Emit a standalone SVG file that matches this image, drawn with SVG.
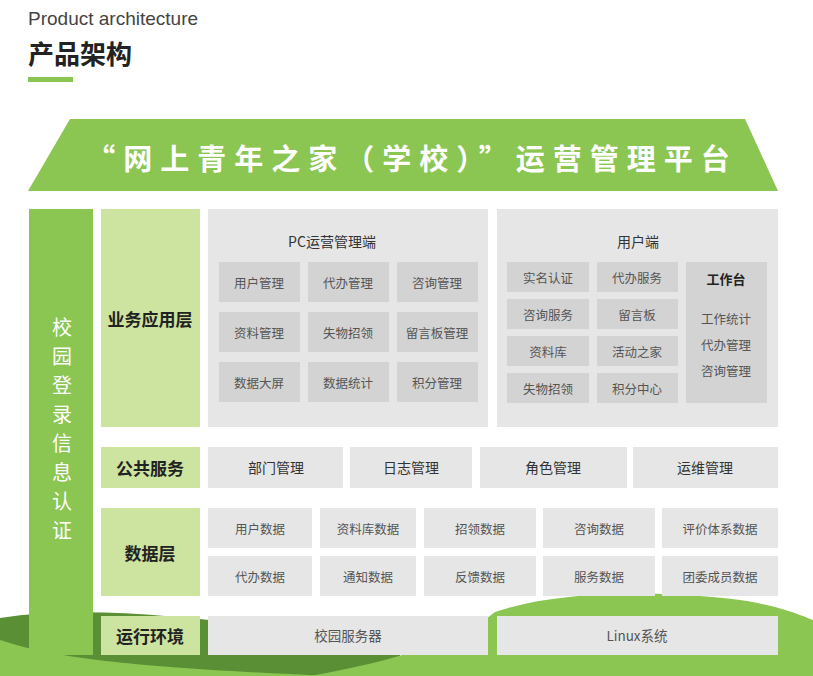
<svg xmlns="http://www.w3.org/2000/svg" width="813" height="676" viewBox="0 0 813 676">
<style>
text{font-family:"Noto Sans CJK SC","Noto Sans",sans-serif;text-anchor:middle;dominant-baseline:central}
.p{fill:#e6e6e6}.b{fill:#d3d3d3}.l{fill:#cde3a0}
.t{font-size:12.5px;fill:#555}.h{font-size:17px;font-weight:bold;fill:#222}
.s{font-size:14px;fill:#333}
</style>
<rect width="813" height="676" fill="#fff"/>
<g id="background">
<path d="M0 618 C120 600 260 630 400 640 L400 676 L0 676 Z" fill="#5a8f35"/>
<path d="M0 640 C60 660 150 668 330 676 L0 676 Z" fill="#8bc552"/>
<path d="M495 612 C560 590 660 590 740 600 C780 606 800 615 813 620 L813 676 L310 676 C400 660 460 640 495 612 Z" fill="#8bc552"/>
</g>
<g id="header">
<text x="28" y="18" style="font-family:'Liberation Sans',sans-serif;text-anchor:start;font-size:19px;fill:#444">Product architecture</text>
<text x="28" y="52" style="text-anchor:start;font-size:26px;font-weight:bold;fill:#222">产品架构</text>
<rect x="28" y="77" width="45" height="5" fill="#8bc552"/>
</g>
<g id="banner">
<path d="M70 119 L745 119 L778 191 L28 191 Z" fill="#8bc552"/>
<text x="412" y="157" style="font-size:29px;font-weight:bold;fill:#fff;letter-spacing:8px">“网上青年之家（学校）”运营管理平台</text>
</g>
<g id="auth">
<rect x="29" y="209" width="64" height="446" fill="#8bc552"/>
<text x="62" y="326" style="font-size:20px;fill:#fff"><tspan x="62" dy="0">校</tspan><tspan x="62" dy="29">园</tspan><tspan x="62" dy="29">登</tspan><tspan x="62" dy="29">录</tspan><tspan x="62" dy="29">信</tspan><tspan x="62" dy="29">息</tspan><tspan x="62" dy="29">认</tspan><tspan x="62" dy="29">证</tspan></text>
</g>
<g id="labels">
<rect class="l" x="101" y="209" width="99" height="218"/><text class="h" x="150" y="318">业务应用层</text>
<rect class="l" x="101" y="447" width="99" height="41"/><text class="h" x="150" y="467">公共服务</text>
<rect class="l" x="101" y="508" width="99" height="88"/><text class="h" x="150" y="552">数据层</text>
<rect class="l" x="101" y="616" width="99" height="39"/><text class="h" x="150" y="635">运行环境</text>
</g>
<g id="pc">
<rect class="p" x="208" y="209" width="280" height="218"/>
<text class="s" x="332" y="241">PC运营管理端</text>
<rect class="b" x="219" y="262" width="81" height="40"/><text class="t" x="259" y="282">用户管理</text>
<rect class="b" x="308" y="262" width="81" height="40"/><text class="t" x="348" y="282">代办管理</text>
<rect class="b" x="397" y="262" width="81" height="40"/><text class="t" x="437" y="282">咨询管理</text>
<rect class="b" x="219" y="312" width="81" height="40"/><text class="t" x="259" y="332">资料管理</text>
<rect class="b" x="308" y="312" width="81" height="40"/><text class="t" x="348" y="332">失物招领</text>
<rect class="b" x="397" y="312" width="81" height="40"/><text class="t" x="437" y="332">留言板管理</text>
<rect class="b" x="219" y="362" width="81" height="40"/><text class="t" x="259" y="382">数据大屏</text>
<rect class="b" x="308" y="362" width="81" height="40"/><text class="t" x="348" y="382">数据统计</text>
<rect class="b" x="397" y="362" width="81" height="40"/><text class="t" x="437" y="382">积分管理</text>
</g>
<g id="user">
<rect class="p" x="497" y="209" width="281" height="218"/>
<text class="s" x="638" y="241">用户端</text>
<rect class="b" x="507" y="262" width="82" height="30"/><text class="t" x="548" y="277">实名认证</text>
<rect class="b" x="597" y="262" width="81" height="30"/><text class="t" x="637" y="277">代办服务</text>
<rect class="b" x="507" y="299" width="82" height="30"/><text class="t" x="548" y="314">咨询服务</text>
<rect class="b" x="597" y="299" width="81" height="30"/><text class="t" x="637" y="314">留言板</text>
<rect class="b" x="507" y="336" width="82" height="30"/><text class="t" x="548" y="351">资料库</text>
<rect class="b" x="597" y="336" width="81" height="30"/><text class="t" x="637" y="351">活动之家</text>
<rect class="b" x="507" y="373" width="82" height="30"/><text class="t" x="548" y="388">失物招领</text>
<rect class="b" x="597" y="373" width="81" height="30"/><text class="t" x="637" y="388">积分中心</text>
<rect class="b" x="686" y="262" width="81" height="141"/>
<text x="726" y="278" style="font-size:13px;font-weight:bold;fill:#222">工作台</text>
<text class="t" x="726" y="318">工作统计</text>
<text class="t" x="726" y="344">代办管理</text>
<text class="t" x="726" y="370">咨询管理</text>
</g>
<g id="public">
<rect class="p" x="208" y="447" width="135" height="41"/><text class="s" x="276" y="467">部门管理</text>
<rect class="p" x="350" y="447" width="122" height="41"/><text class="s" x="411" y="467">日志管理</text>
<rect class="p" x="480" y="447" width="147" height="41"/><text class="s" x="553" y="467">角色管理</text>
<rect class="p" x="633" y="447" width="145" height="41"/><text class="s" x="705" y="467">运维管理</text>
</g>
<g id="data">
<rect class="p" x="208" y="508" width="104" height="40"/><text class="t" x="260" y="528">用户数据</text>
<rect class="p" x="320" y="508" width="96" height="40"/><text class="t" x="368" y="528">资料库数据</text>
<rect class="p" x="424" y="508" width="112" height="40"/><text class="t" x="480" y="528">招领数据</text>
<rect class="p" x="543" y="508" width="112" height="40"/><text class="t" x="599" y="528">咨询数据</text>
<rect class="p" x="662" y="508" width="116" height="40"/><text class="t" x="720" y="528">评价体系数据</text>
<rect class="p" x="208" y="556" width="104" height="40"/><text class="t" x="260" y="576">代办数据</text>
<rect class="p" x="320" y="556" width="96" height="40"/><text class="t" x="368" y="576">通知数据</text>
<rect class="p" x="424" y="556" width="112" height="40"/><text class="t" x="480" y="576">反馈数据</text>
<rect class="p" x="543" y="556" width="112" height="40"/><text class="t" x="599" y="576">服务数据</text>
<rect class="p" x="662" y="556" width="116" height="40"/><text class="t" x="720" y="576">团委成员数据</text>
</g>
<g id="runtime">
<rect class="p" x="208" y="616" width="280" height="39"/><text class="t" x="348" y="635" style="font-size:13.5px">校园服务器</text>
<rect class="p" x="497" y="616" width="281" height="39"/><text class="t" x="637" y="635" style="font-size:13.5px">Linux系统</text>
</g>
<g id="connectors"/>
</svg>
